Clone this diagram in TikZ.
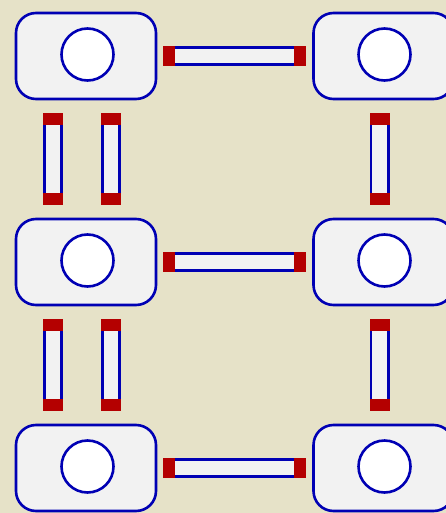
\documentclass[tikz,border=0pt]{standalone}
\usetikzlibrary{calc}
\definecolor{bg}{HTML}{E6E2C8}
\definecolor{bl}{HTML}{0000B4}
\definecolor{rd}{HTML}{B40000}
\definecolor{lg}{HTML}{F2F2F2}
\tikzset{
  unitbox/.style={draw=bl, line width=2.6pt, fill=lg, rounded corners=20pt,
    minimum width=140pt, minimum height=86pt, inner sep=0pt},
  hole/.style={circle, draw=bl, line width=2.6pt, fill=white, minimum size=52pt, inner sep=0pt},
  barline/.style={draw=bl, line width=2.6pt, fill=lg},
  capfill/.style={fill=rd}
}
\newcommand\hconn[2]{%
  \draw[barline] ($(#1)+(1.3,-8.7)$) rectangle ($(#2)+(-1.3,8.7)$);
  \fill[capfill] ($(#1)+(0,-10)$) rectangle ($(#1)+(12,10)$);
  \fill[capfill] ($(#2)+(-12,-10)$) rectangle ($(#2)+(0,10)$);}
\newcommand\vconn[2]{%
  \draw[barline] ($(#1)+(-8.7,1.3)$) rectangle ($(#2)+(8.7,-1.3)$);
  \fill[capfill] ($(#1)+(-10,0)$) rectangle ($(#1)+(10,12)$);
  \fill[capfill] ($(#2)+(-10,-12)$) rectangle ($(#2)+(10,0)$);}
\begin{document}
\begin{tikzpicture}[x=1pt,y=-1pt]
\fill[bg] (0,0) rectangle (446,513);
\useasboundingbox (0,0) rectangle (446,513);
% boxes
\foreach \r/\y in {1/56,2/262,3/468}{
  \node[unitbox] (L\r) at (86,\y) {};
  \node[hole] (LH\r) at ($(L\r.center)+(1.5,-1.5)$) {};
  \node[unitbox] (R\r) at (383.5,\y) {};
  \node[hole] (RH\r) at ($(R\r.center)+(1,-1.5)$) {};
}
% horizontal connectors
\foreach \r in {1,2,3}{
  \coordinate (hs\r) at ($(L\r.east)+(6,0)$);
  \coordinate (he\r) at ($(R\r.west)+(-6,0)$);
  \hconn{hs\r}{he\r}
}
% vertical connectors
\foreach \a/\b in {1/2,2/3}{
  \coordinate (va\a) at ($(L\a.south)+(-33,13)$);
  \coordinate (vb\a) at ($(L\b.north)+(-33,-13)$);
  \vconn{va\a}{vb\a}
  \coordinate (vc\a) at ($(L\a.south)+(25,13)$);
  \coordinate (vd\a) at ($(L\b.north)+(25,-13)$);
  \vconn{vc\a}{vd\a}
  \coordinate (ve\a) at ($(R\a.south)+(-4,13)$);
  \coordinate (vf\a) at ($(R\b.north)+(-4,-13)$);
  \vconn{ve\a}{vf\a}
}
\end{tikzpicture}
\end{document}
